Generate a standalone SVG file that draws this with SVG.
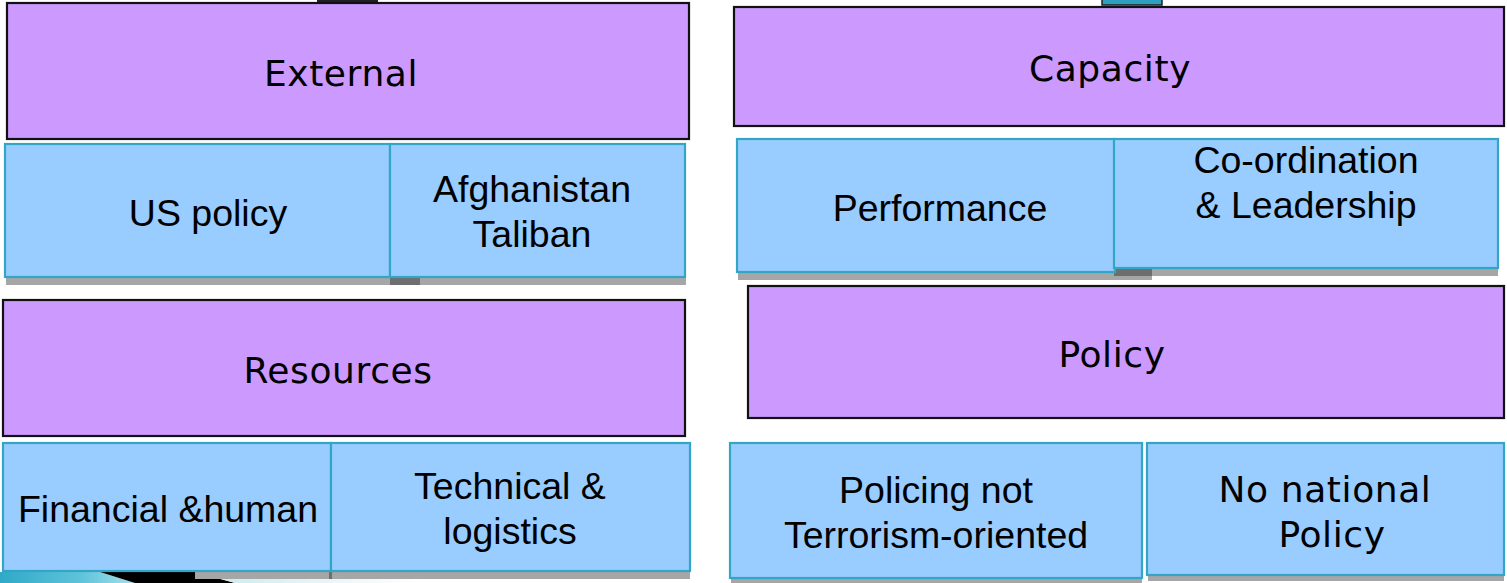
<svg xmlns="http://www.w3.org/2000/svg" width="1507" height="583" viewBox="0 0 1507 583">
<defs>
<style>
.p{fill:#CC99FF;stroke:#111;stroke-width:2.2}
.b{fill:#99CCFF;stroke:#33A6C6;stroke-width:2.2}
.sh{fill:#A6A6A6}
.shd{fill:#6E6E6E}
.tp{font-family:"DejaVu Sans",Verdana,sans-serif;font-size:36px;letter-spacing:0.6px;fill:#000;text-anchor:middle}
.tb{font-family:"Liberation Sans",Arial,sans-serif;font-size:37.5px;fill:#000;text-anchor:middle}
</style>
<linearGradient id="sw" x1="0" y1="0" x2="1" y2="0">
<stop offset="0" stop-color="#2FA9C8"/>
<stop offset="0.6" stop-color="#5FC3DA"/>
<stop offset="1" stop-color="#A8E0EC"/>
</linearGradient>
<linearGradient id="fade" x1="0" y1="0" x2="1" y2="0">
<stop offset="0" stop-color="#C8E8EE"/>
<stop offset="1" stop-color="#FFFFFF"/>
</linearGradient>
</defs>
<rect width="1507" height="583" fill="#FFFFFF"/>
<g id="decor">
<rect x="317" y="0" width="61" height="3" fill="#222"/>
<rect x="1102" y="-2" width="60" height="7" fill="#2FA0C0" stroke="#222" stroke-width="1.5"/>
<polygon points="0,572 100,572 135,583 0,583" fill="url(#sw)"/>
<polygon points="100,572 195,572 235,583 135,583" fill="#000"/>
<polygon points="195,572 400,572 420,583 235,583" fill="url(#fade)"/>
</g>
<g id="shadows">
<rect class="sh" x="6" y="277" width="680" height="8"/>
<rect class="shd" x="390" y="277" width="30" height="8"/>
<rect class="sh" x="738" y="272" width="414" height="8"/>
<rect class="shd" x="1114" y="268" width="38" height="8"/>
<rect class="sh" x="1152" y="268" width="346" height="8"/>
<rect class="sh" x="195" y="571" width="495" height="8"/>
<rect class="shd" x="329" y="571" width="3" height="8"/>
<rect class="sh" x="731" y="578" width="411" height="5"/>
<rect class="sh" x="1148" y="575" width="356" height="6"/>
</g>
<g id="external"><rect class="p" x="7" y="3" width="682" height="136"/><text class="tp" x="341" y="86">External</text></g>
<g id="capacity"><rect class="p" x="734" y="7" width="770" height="119"/><text class="tp" x="1110" y="81">Capacity</text></g>
<g id="us-policy"><rect class="b" x="5" y="144" width="385" height="133"/><text class="tb" x="208" y="226">US policy</text></g>
<g id="afghanistan"><rect class="b" x="390" y="144" width="295" height="133"/><text class="tb" x="532" y="202">Afghanistan</text><text class="tb" x="532" y="247">Taliban</text></g>
<g id="performance"><rect class="b" x="737" y="139" width="378" height="133"/><text class="tb" x="940" y="221">Performance</text></g>
<g id="coordination"><rect class="b" x="1114" y="139" width="384" height="129"/><text class="tb" x="1306" y="173">Co-ordination</text><text class="tb" x="1306" y="218">&amp; Leadership</text></g>
<g id="resources"><rect class="p" x="3" y="300" width="682" height="136"/><text class="tp" x="338" y="383">Resources</text></g>
<g id="policy"><rect class="p" x="748" y="286" width="756" height="132"/><text class="tp" x="1112" y="367">Policy</text></g>
<g id="financial"><rect class="b" x="3" y="443" width="328" height="128"/><text class="tb" x="168" y="522">Financial &amp;human</text></g>
<g id="technical"><rect class="b" x="331" y="443" width="359" height="128"/><text class="tb" x="510" y="499">Technical &amp;</text><text class="tb" x="510" y="544">logistics</text></g>
<g id="policing"><rect class="b" x="730" y="443" width="412" height="135"/><text class="tb" x="936" y="503">Policing not</text><text class="tb" x="936" y="548">Terrorism-oriented</text></g>
<g id="no-national"><rect class="b" x="1147" y="443" width="357" height="132"/><text class="tp" x="1325" y="502">No national</text><text class="tp" x="1332" y="547">Policy</text></g>
<g id="connectors"></g>
</svg>
